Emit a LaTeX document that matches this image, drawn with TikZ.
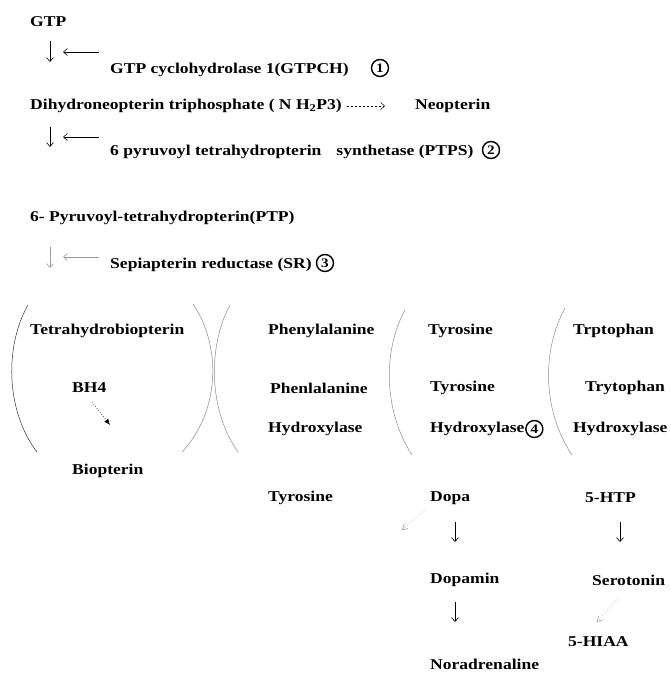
\documentclass[tikz,border=0pt]{standalone}
\usepackage{fontspec}
\setmainfont[FakeStretch=1.17]{Liberation Serif}
\usetikzlibrary{arrows.meta,positioning}
\tikzset{%
  lbl/.style={anchor=west,inner sep=0pt,font=\bfseries\fontsize{15}{18}\selectfont},
  circnum/.style={circle,draw,line width=1.4pt,inner sep=0pt,minimum size=17pt,
    font=\bfseries\fontsize{13}{13}\selectfont},
  barb/.style={-{Straight Barb[length=4pt,width=7pt]},line width=0.6pt},
  dotarr/.style={dotted,-{Straight Barb[length=5pt,width=6pt]},line width=0.6pt},
  bracket/.style={line width=0.5pt}
}
\begin{document}
\begin{tikzpicture}[x=1pt,y=-1pt]
% ---- colors ----
\definecolor{arcgray}{HTML}{8A8A8A}   % bracket arcs
\definecolor{lightarr}{HTML}{9A9A9A}  % pale arrows

\useasboundingbox (0,0) rectangle (670,675);
\fill[white] (0,0) rectangle (670,675);

% ===================== synthesis chain =====================
\node[lbl] (gtp)   at (30,22)  {GTP};
\node[lbl] (gtpch) at (110,70) {GTP cyclohydrolase 1(GTPCH)};
\node[circnum] (c1) at (380,68) {1};
\node[lbl] (dhnp)  at (30,106) {Dihydroneopterin triphosphate ( N H\textsubscript{2}P3)};
\node[lbl] (neo)   at (415,106) {Neopterin};
\node[lbl] (ptps)  at (110,152) {6 pyruvoyl tetrahydropterin\quad synthetase (PTPS)};
\node[circnum] (c2) at (491,150) {2};
\node[lbl] (ptp)   at (30,218) {6- Pyruvoyl-tetrahydropterin(PTP)};
\node[lbl] (sr)    at (110,265) {Sepiapterin reductase (SR)};
\node[circnum] (c3) at (325,263) {3};

% step arrows: #n / down top / down bottom / enzyme arrow y / colour
\foreach \n/\ya/\yb/\yc/\col in {1/41/62/52/black, 2/127/147/137/black, 3/247/268/257/lightarr}{
  \coordinate (dnA\n) at (50,\ya);
  \coordinate (dnB\n) at (50,\yb);
  \coordinate (enA\n) at (99,\yc);
  \coordinate (enB\n) at (63,\yc);
  \draw[barb,\col] (dnA\n) -- (dnB\n);
  \draw[barb,\col] (enA\n) -- (enB\n);
}
\draw[barb,line width=0.5pt,dash pattern=on 2.5pt off 1.5pt,shorten <=5pt,shorten >=30pt]
  (dhnp.east) -- (neo.west);

% ===================== cofactor + hydroxylases =====================
\node[lbl] (thb)   at (30,331) {Tetrahydrobiopterin};
\node[lbl] (bh4)   at (72,388) {BH4};
\node[lbl] (biop)  at (72,471) {Biopterin};

\node[lbl] (phe)   at (268,331) {Phenylalanine};
\node[lbl] (pheh)  at (270,388) {Phenlalanine};
\node[lbl] (phehy) at (268,429) {Hydroxylase};

\node[lbl] (tyr)   at (428,331) {Tyrosine};
\node[lbl] (tyrh)  at (430,388) {Tyrosine};
\node[lbl] (tyrhy) at (430,429) {Hydroxylase};
\node[circnum,right=0.5pt of tyrhy] (c4) {4};

\node[lbl] (trp)   at (573,331) {Trptophan};
\node[lbl] (trph)  at (585,388) {Trytophan};
\node[lbl] (trphy) at (573,429) {Hydroxylase};

% bracket arcs
\draw[bracket,black!80] (28,305) .. controls (5,345) and (5,410) .. (37,452);
\draw[bracket,arcgray]  (193,304) .. controls (221,345) and (221,410) .. (182,452);
\draw[bracket,arcgray]  (230,305) .. controls (208,345) and (208,410) .. (238,452);
\draw[bracket,arcgray]  (405,310) .. controls (383,350) and (383,410) .. (412,455);
\draw[bracket,arcgray]  (565,308) .. controls (542,350) and (542,410) .. (572,455);

% BH4 -> Biopterin
\coordinate (bhA) at (92,402);
\coordinate (bhB) at (110,425);
\draw[dotted,line width=0.6pt,-{Latex[length=6pt,width=5pt]}] (bhA) -- (bhB);

% ===================== products =====================
\node[lbl] (tyr2)    at (268,498) {Tyrosine};
\node[lbl] (dopa)    at (430,498) {Dopa};
\node[lbl] (htp)     at (585,498) {5-HTP};
\node[lbl] (dopamin) at (430,580) {Dopamin};
\node[lbl] (sero)    at (592,580) {Serotonin};
\node[lbl] (hiaa)    at (568,642) {5-HIAA};
\node[lbl] (nora)    at (430,664) {Noradrenaline};

\coordinate (dpA) at (455,522);  \coordinate (dpB) at (455,542);
\coordinate (htA) at (620,522);  \coordinate (htB) at (620,542);
\coordinate (dmA) at (455,602);  \coordinate (dmB) at (455,622);
\draw[barb] (dpA) -- (dpB);
\draw[barb] (htA) -- (htB);
\draw[barb] (dmA) -- (dmB);

\coordinate (dsA) at (425,510);  \coordinate (dsB) at (402,530);
\coordinate (sxA) at (618,598);  \coordinate (sxB) at (597,622);
\draw[dotarr,lightarr] (dsA) -- (dsB);
\draw[dotarr,lightarr] (sxA) -- (sxB);
\end{tikzpicture}
\end{document}
